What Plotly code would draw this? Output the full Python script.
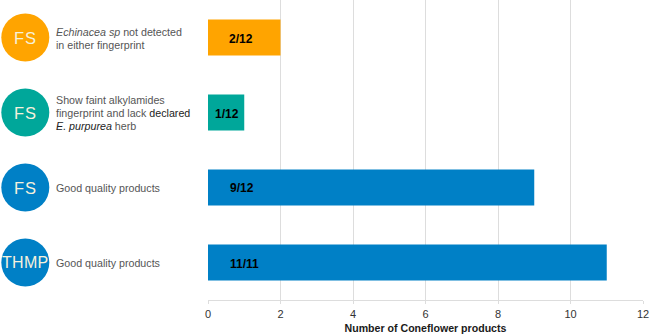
import plotly.graph_objects as go

categories = ["THMP good", "FS good", "FS faint", "FS not detected"]
values = [11, 9, 1, 2]
ratio_labels = ["11/11", "9/12", "1/12", "2/12"]
ratio_label_x = [1.02, 0.94, 0.52, 0.9]
ratio_label_shift = [-1, 0, -1, -1.5]
bar_colors = ["#0080C6", "#0080C6", "#00A79A", "#FFA400"]
badge_labels = ["THMP", "FS", "FS", "FS"]
badge_sizes = [16, 16.5, 16.5, 16.5]
badge_spacing = ["0.3px", "1px", "1px", "1px"]
descriptions = [
    ["Good quality products"],
    ["Good quality products"],
    ["Show faint alkylamides",
     "fingerprint and lack <span style='color:#222'>declared</span>",
     "<span style='color:#222'><i>E. purpurea</i></span> herb"],
    ["<i>Echinacea sp</i> not detected", "in either fingerprint"],
]
tick_vals = [0, 2, 4, 6, 8, 10, 12]
x_title = "Number of Coneflower products"
FONT = "Liberation Sans, Arial, sans-serif"

fig = go.Figure()
fig.add_trace(go.Bar(
    x=values, y=categories, orientation="h", width=0.48,
    marker=dict(color=bar_colors, line=dict(width=0)),
    hoverinfo="skip", showlegend=False, xaxis="x", yaxis="y",
))
# Left-hand badges live on a second x axis measured in pixels of the left panel
fig.add_trace(go.Scatter(
    x=[25.3] * 4, y=categories, mode="markers",
    marker=dict(size=48, color=bar_colors, line=dict(width=0)),
    hoverinfo="skip", showlegend=False, xaxis="x2", yaxis="y", cliponaxis=False,
))

annotations = []
for cat, lab, size, sp in zip(categories, badge_labels, badge_sizes, badge_spacing):
    annotations.append(dict(x=25.6, y=cat, xref="x2", yref="y",
                            text=f"<span style='letter-spacing:{sp}'>{lab}</span>",
                            showarrow=False, xanchor="center", yanchor="middle",
                            font=dict(family=FONT, size=size, color="#F6F1DC")))
for cat, lab, lx, sh in zip(categories, ratio_labels, ratio_label_x, ratio_label_shift):
    annotations.append(dict(x=lx, y=cat, xref="x", yref="y", text=f"<b>{lab}</b>",
                            showarrow=False, xanchor="center", yanchor="middle", yshift=sh,
                            font=dict(family=FONT, size=12, color="#000")))
LINE = 13
for cat, lines in zip(categories, descriptions):
    n = len(lines)
    for i, line in enumerate(lines):
        annotations.append(dict(x=56, y=cat, xref="x2", yref="y", text=line,
                                showarrow=False, xanchor="left", yanchor="middle",
                                xshift=-2, yshift=((n - 1) / 2 - i) * LINE - 0.5,
                                font=dict(family=FONT, size=10.7, color="#555")))

fig.update_layout(
    width=650, height=335,
    margin=dict(l=0, r=7, t=0, b=35, pad=0, autoexpand=False),
    paper_bgcolor="white", plot_bgcolor="white",
    bargap=0.52, annotations=annotations,
    xaxis=dict(domain=[208 / 643, 1], range=[0, 12], tickvals=tick_vals,
               showgrid=True, gridcolor="#DDDDDD", gridwidth=1.3, zeroline=False,
               showline=True, linecolor="#DDDDDD", linewidth=1.3,
               ticks="outside", ticklen=3, tickcolor="#DDDDDD", tickwidth=1,
               ticklabelstandoff=1,
               tickfont=dict(family=FONT, size=11, color="#333"),
               title=dict(text=f"<b>{x_title}</b>", standoff=5,
                          font=dict(family=FONT, size=10.6, color="#1a1a1a"))),
    xaxis2=dict(domain=[0, 208 / 643], range=[0, 208], visible=False, anchor="y"),
    yaxis=dict(categoryorder="array", categoryarray=categories, visible=False,
               range=[-0.5, 3.5]),
)
fig.write_html("out.html", config=dict(displayModeBar=False),
               post_script="document.body.style.margin='0';document.body.style.overflow='hidden';")
